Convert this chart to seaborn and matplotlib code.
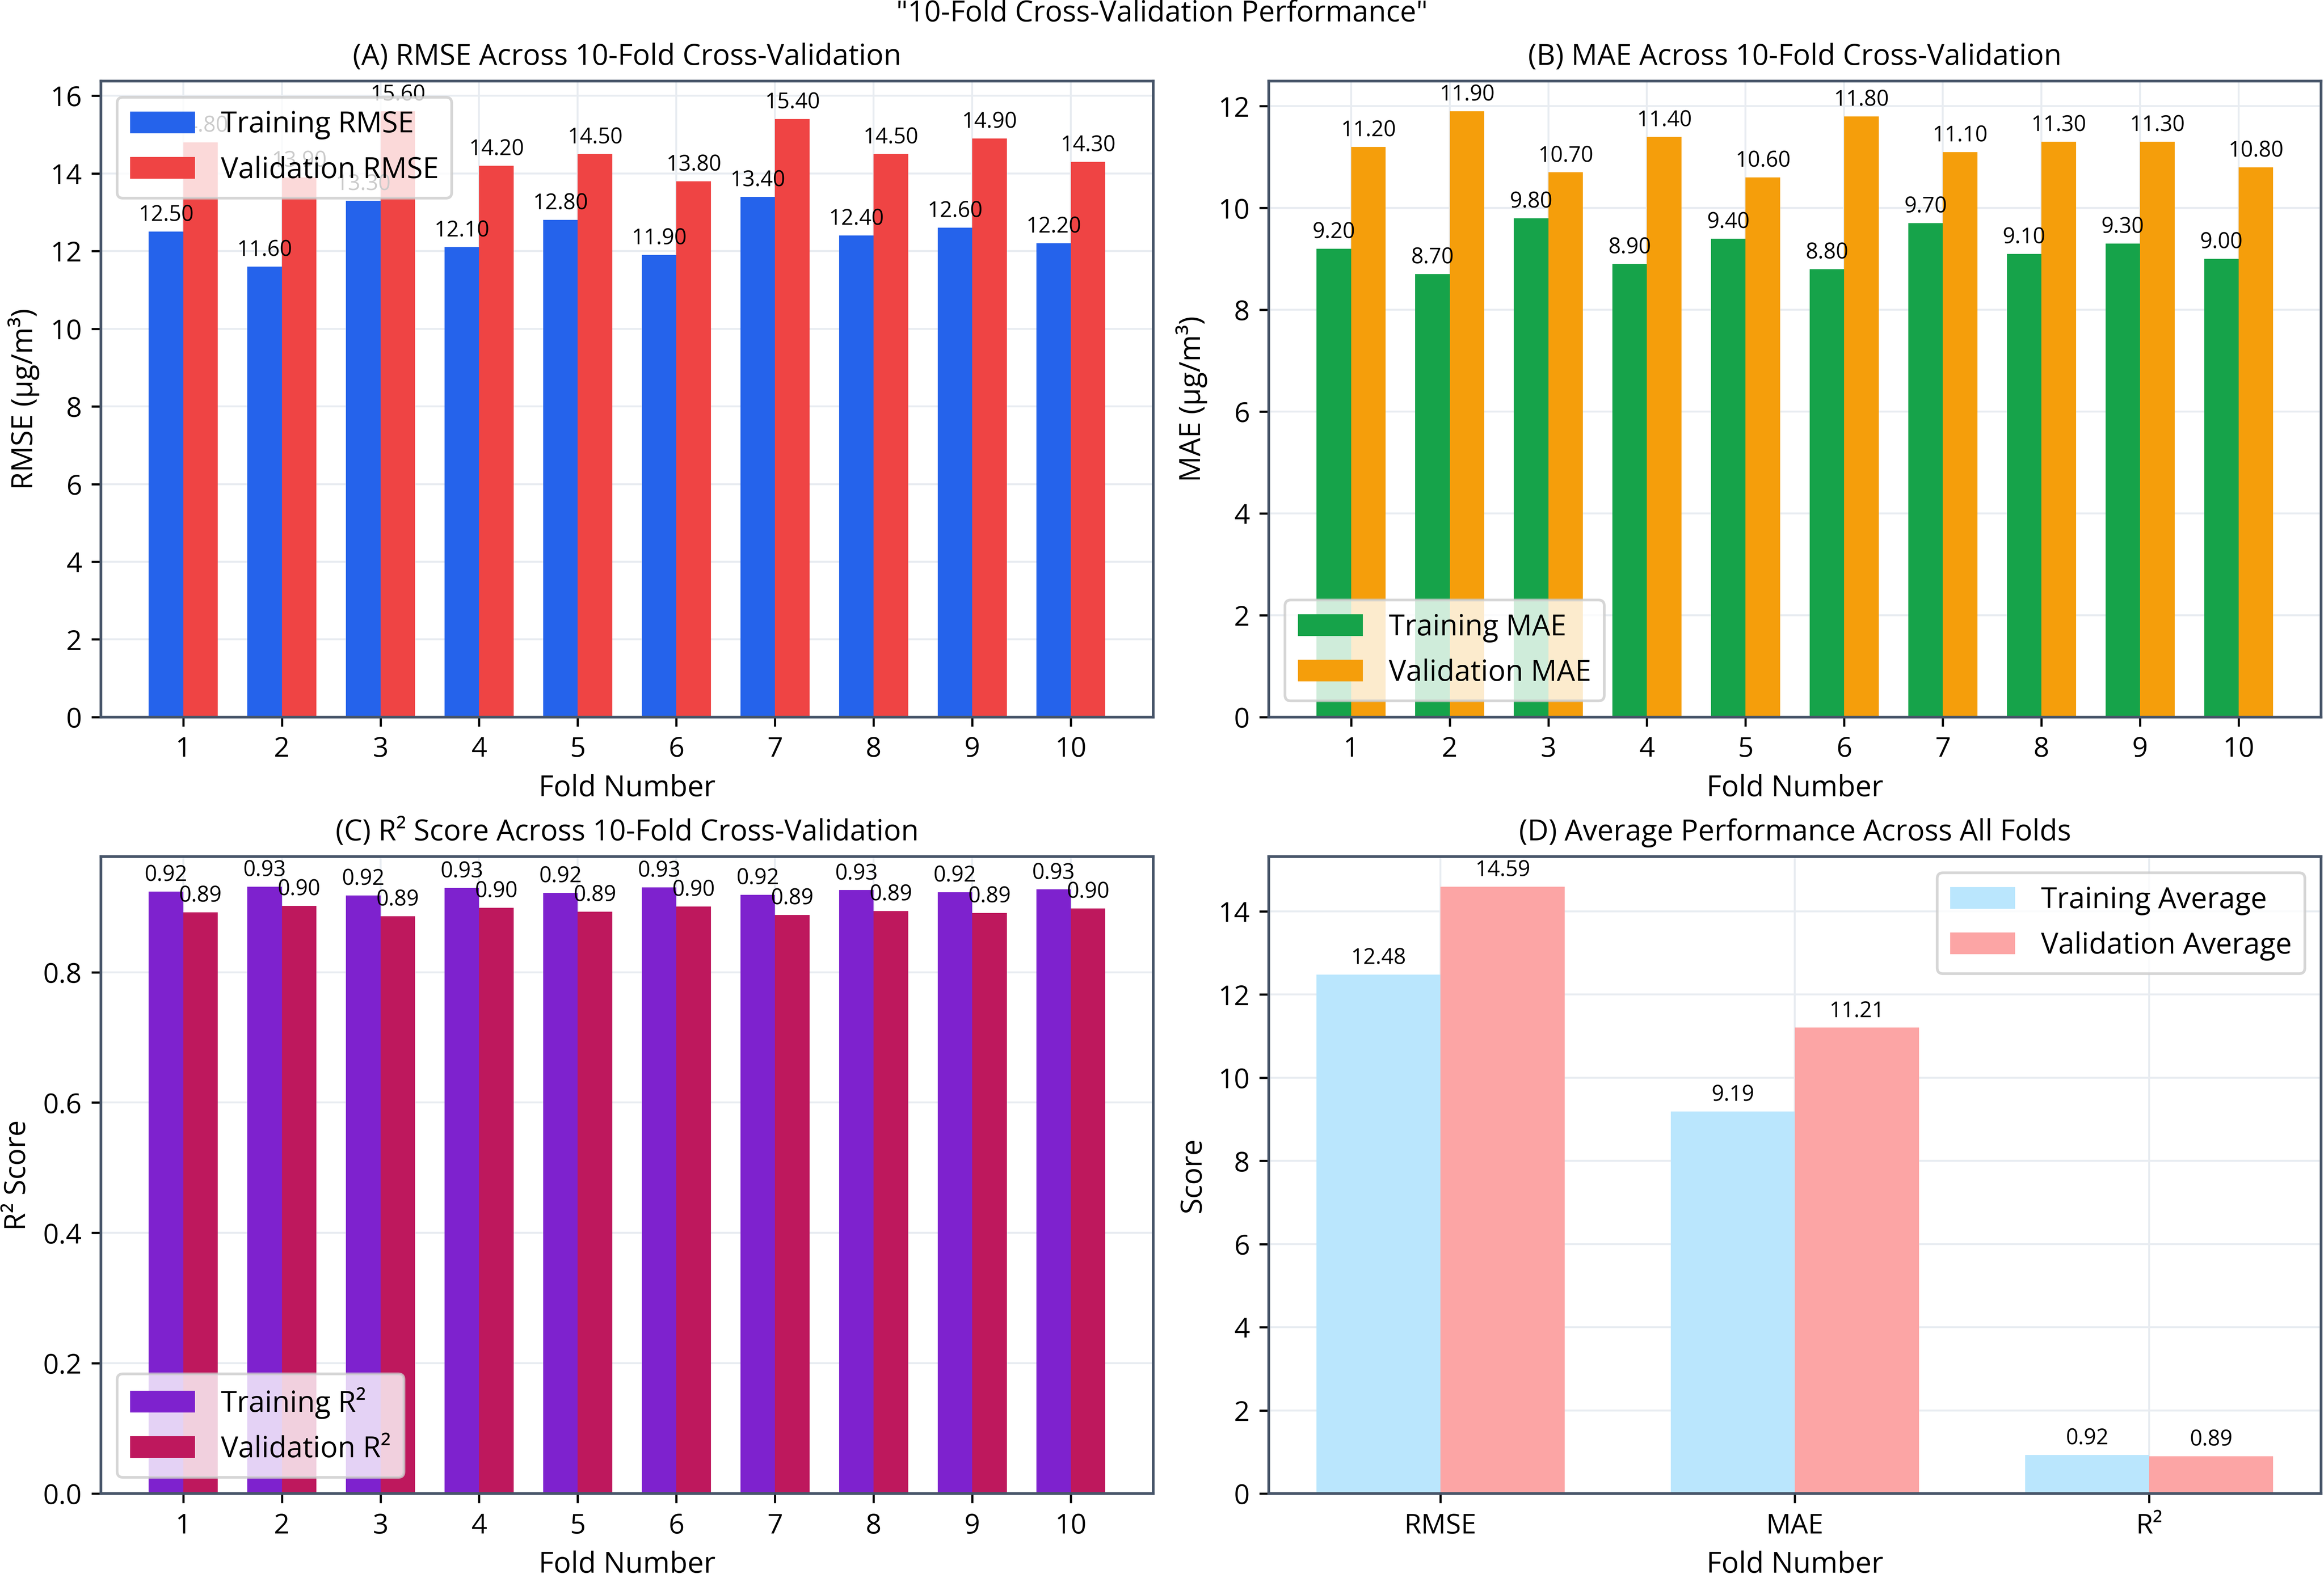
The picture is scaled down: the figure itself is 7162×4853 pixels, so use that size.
import matplotlib
matplotlib.use("Agg")
import matplotlib.pyplot as plt
import seaborn as sns
import pandas as pd
import numpy as np

# ---- data ----
folds = [1, 2, 3, 4, 5, 6, 7, 8, 9, 10]
train_rmse = [12.5, 11.6, 13.3, 12.1, 12.8, 11.9, 13.4, 12.4, 12.6, 12.2]
val_rmse = [14.8, 13.9, 15.6, 14.2, 14.5, 13.8, 15.4, 14.5, 14.9, 14.3]
train_mae = [9.2, 8.7, 9.8, 8.9, 9.4, 8.8, 9.7, 9.1, 9.3, 9.0]
val_mae = [11.2, 11.9, 10.7, 11.4, 10.6, 11.8, 11.1, 11.3, 11.3, 10.8]
train_r2 = [0.924, 0.931, 0.918, 0.929, 0.922, 0.930, 0.919, 0.926, 0.923, 0.927]
val_r2 = [0.892, 0.902, 0.886, 0.899, 0.893, 0.901, 0.888, 0.894, 0.891, 0.898]
metric_names = ["RMSE", "MAE", "R²"]

sns.set_theme(style="whitegrid", rc={
    "text.color": "black",
    "axes.labelcolor": "black",
    "xtick.color": "black",
    "ytick.color": "black",
})
plt.rcParams["font.family"] = ["Open Sans", "DejaVu Sans"]

SPINE = "#475569"
GRID = "#e8ecf1"
FS_TITLE = 10.7
FS_LABEL = 10.7
FS_TICK = 10.2
FS_BAR = 8
LEG_KW = dict(fontsize=10.7, handlelength=2.24, handleheight=0.78, handletextpad=0.9,
              borderpad=0.45, labelspacing=0.56, borderaxespad=0.56,
              frameon=True, framealpha=0.8, edgecolor="0.8", fancybox=True)


def style_axes(ax, title, ylabel, xlabel="Fold Number"):
    ax.set_title(title, fontsize=FS_TITLE, pad=6)
    ax.set_ylabel(ylabel, fontsize=FS_LABEL)
    ax.set_xlabel(xlabel, fontsize=FS_LABEL)
    ax.grid(True, color=GRID, linewidth=0.7)
    ax.set_axisbelow(True)
    for s in ax.spines.values():
        s.set_visible(True)
        s.set_color(SPINE)
        s.set_linewidth(1.0)
    ax.tick_params(axis="both", which="major", length=3.5, width=0.8, color="black",
                   labelsize=FS_TICK, bottom=True, left=True, labelcolor="black")


def grouped_bars(ax, cats, train, val, names, colors, loc):
    df = pd.DataFrame({
        "cat": list(cats) * 2,
        "value": list(train) + list(val),
        "set": [names[0]] * len(train) + [names[1]] * len(val),
    })
    sns.barplot(data=df, x="cat", y="value", hue="set", order=list(cats),
                palette=colors, width=0.7, saturation=1, errorbar=None,
                edgecolor="none", linewidth=0, ax=ax)
    for cont in ax.containers:
        ax.bar_label(cont, fmt="%.2f", padding=2, fontsize=FS_BAR)
    n = len(cats)
    ax.set_xlim(-0.35 - 0.05 * (n - 0.3), n - 1 + 0.35 + 0.05 * (n - 0.3))
    ax.legend(loc=loc, **LEG_KW)


W, H = 7162, 4853
fig = plt.figure(figsize=(7162.2 / 600, 4853.2 / 600), dpi=600)
axA = fig.add_axes([0.0434, 0.5444, 0.4528, 0.4041])
axB = fig.add_axes([0.5459, 0.5444, 0.4528, 0.4041])
axC = fig.add_axes([0.0434, 0.0511, 0.4528, 0.4047])
axD = fig.add_axes([0.5459, 0.0511, 0.4528, 0.4047])

grouped_bars(axA, folds, train_rmse, val_rmse, ["Training RMSE", "Validation RMSE"],
             ["#2563eb", "#ef4444"], "upper left")
style_axes(axA, "(A) RMSE Across 10-Fold Cross-Validation", "RMSE (μg/m³)")

grouped_bars(axB, folds, train_mae, val_mae, ["Training MAE", "Validation MAE"],
             ["#16a34a", "#f59e0b"], "lower left")
style_axes(axB, "(B) MAE Across 10-Fold Cross-Validation", "MAE (μg/m³)")

grouped_bars(axC, folds, train_r2, val_r2, ["Training R²", "Validation R²"],
             ["#7e22ce", "#be185d"], "lower left")
style_axes(axC, "(C) R² Score Across 10-Fold Cross-Validation", "R² Score")

train_avg = [np.mean(train_rmse), np.mean(train_mae), np.mean(train_r2)]
val_avg = [np.mean(val_rmse), np.mean(val_mae), np.mean(val_r2)]
grouped_bars(axD, metric_names, train_avg, val_avg, ["Training Average", "Validation Average"],
             ["#bae6fd", "#fca5a5"], "upper right")
style_axes(axD, "(D) Average Performance Across All Folds", "Score")

fig.text(0.5, 1 - 66 / H, '"10-Fold Cross-Validation Performance"', ha="center",
         va="baseline", fontsize=FS_TITLE)

fig.savefig("out.png", dpi=600)
